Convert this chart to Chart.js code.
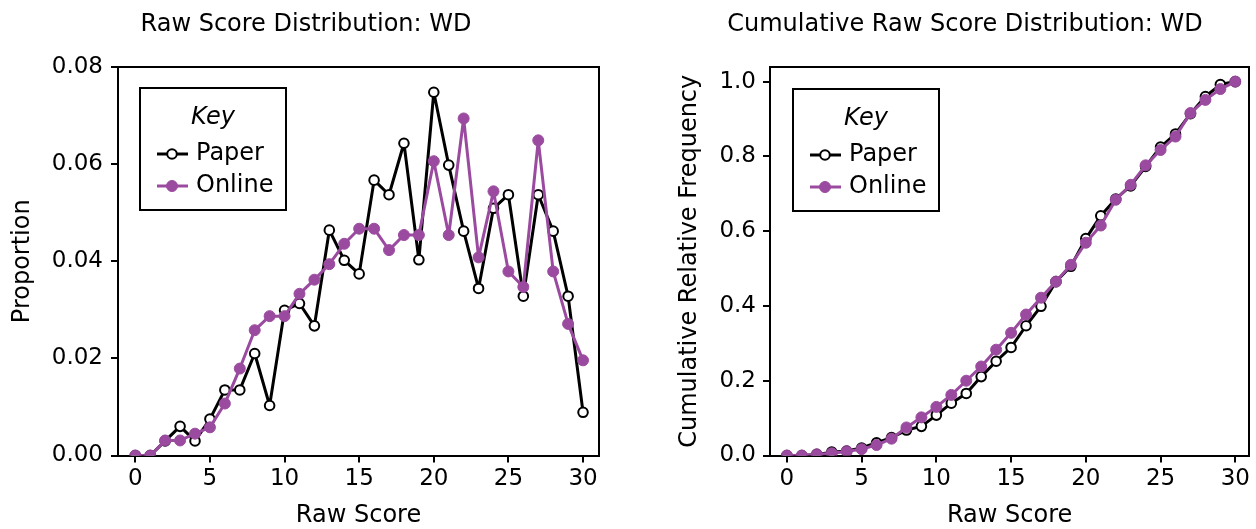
<!DOCTYPE html>
<html>
<head>
<meta charset="utf-8">
<script src="https://cdn.jsdelivr.net/npm/chart.js@4/dist/chart.umd.min.js"></script>
<style>
  html, body { margin: 0; padding: 0; background: #fff; width: 1256px; height: 529px; overflow: hidden; }
  canvas { position: absolute; top: 0; }
  #dist { left: 0; }
  #cum { left: 674px; }
</style>
</head>
<body>
<canvas id="dist" width="612" height="529"></canvas>
<canvas id="cum" width="582" height="529"></canvas>
<script>
// Raw scores 0..30
const scores = [0, 1, 2, 3, 4, 5, 6, 7, 8, 9, 10, 11, 12, 13, 14, 15, 16, 17, 18, 19, 20, 21, 22, 23, 24, 25, 26, 27, 28, 29, 30];

// Proportion of candidates at each raw score
const paperProportion = [0, 0, 0.0030, 0.0060, 0.0030, 0.0075, 0.0135, 0.0135, 0.0210, 0.0103, 0.0299, 0.0313, 0.0267, 0.0464, 0.0402, 0.0374, 0.0567, 0.0537, 0.0643, 0.0403, 0.0748, 0.0598, 0.0462, 0.0344, 0.0509, 0.0537, 0.0328, 0.0537, 0.0462, 0.0328, 0.0089];
const onlineProportion = [0, 0, 0.0031, 0.0031, 0.0045, 0.0058, 0.0107, 0.0179, 0.0258, 0.0287, 0.0287, 0.0333, 0.0362, 0.0394, 0.0436, 0.0467, 0.0467, 0.0423, 0.0454, 0.0454, 0.0606, 0.0454, 0.0694, 0.0408, 0.0544, 0.0379, 0.0347, 0.0649, 0.0379, 0.0271, 0.0196];

// Cumulative relative frequency at each raw score
const paperCumulative = [0, 0, 0.003, 0.009, 0.012, 0.020, 0.034, 0.048, 0.068, 0.078, 0.108, 0.140, 0.166, 0.211, 0.252, 0.289, 0.347, 0.399, 0.465, 0.506, 0.580, 0.641, 0.686, 0.721, 0.773, 0.825, 0.860, 0.914, 0.960, 0.992, 1.000];
const onlineCumulative = [0, 0, 0.003, 0.006, 0.011, 0.017, 0.028, 0.045, 0.075, 0.102, 0.130, 0.162, 0.200, 0.238, 0.283, 0.328, 0.377, 0.422, 0.465, 0.510, 0.569, 0.615, 0.684, 0.724, 0.776, 0.817, 0.853, 0.916, 0.951, 0.980, 1.000];

// Tick labels
const scoreTicks = [0, 5, 10, 15, 20, 25, 30];
const proportionTicks = [0, 0.02, 0.04, 0.06, 0.08];
const cumulativeTicks = [0, 0.2, 0.4, 0.6, 0.8, 1.0];

const seriesNames = ['Paper', 'Online'];
const keyTitle = 'Key';

const FONT = "'DejaVu Sans', 'Liberation Sans', sans-serif";
const PURPLE = '#9b4b9f';

Chart.defaults.font.family = FONT;
Chart.defaults.color = '#000';

// Boxed key with a line-and-marker sample for each series
const keyBox = {
  id: 'keyBox',
  afterDraw(chart, args, opts) {
    const { ctx, chartArea } = chart;
    const x0 = chartArea.left + opts.dx;
    const y0 = chartArea.top + opts.dy;
    const w = 146, h = 122;
    ctx.save();
    ctx.fillStyle = '#fff';
    ctx.fillRect(x0, y0, w, h);
    ctx.lineWidth = 2;
    ctx.strokeStyle = '#000';
    ctx.strokeRect(x0, y0, w, h);
    ctx.fillStyle = '#000';
    ctx.textBaseline = 'middle';
    ctx.textAlign = 'center';
    ctx.font = 'italic 24px ' + FONT;
    ctx.fillText(keyTitle, x0 + w / 2, y0 + 30);
    ctx.textAlign = 'left';
    ctx.font = '24px ' + FONT;
    seriesNames.forEach((name, i) => {
      const ds = chart.data.datasets.find(d => d.label === name);
      const y = y0 + 66 + i * 32;
      ctx.beginPath();
      ctx.moveTo(x0 + 17, y);
      ctx.lineTo(x0 + 48, y);
      ctx.lineWidth = ds.borderWidth;
      ctx.strokeStyle = ds.borderColor;
      ctx.stroke();
      ctx.beginPath();
      ctx.arc(x0 + 32, y, ds.pointRadius, 0, Math.PI * 2);
      ctx.fillStyle = ds.pointBackgroundColor;
      ctx.fill();
      ctx.lineWidth = ds.pointBorderWidth;
      ctx.strokeStyle = ds.pointBorderColor;
      ctx.stroke();
      ctx.fillStyle = '#000';
      ctx.fillText(name, x0 + 56, y);
    });
    ctx.restore();
  }
};

function points(values) {
  return scores.map((s, i) => ({ x: s, y: values[i] }));
}

function tickAxis(extra) {
  return Object.assign({
    type: 'linear',
    grid: { display: true, drawOnChartArea: false, drawTicks: true, tickLength: 7, color: '#000', lineWidth: 2 },
    border: { display: true, color: '#000', width: 2 },
  }, extra);
}

function frameAxis(position, size) {
  return {
    type: 'linear',
    position: position,
    display: true,
    grid: { display: false },
    ticks: { display: false },
    border: { display: true, color: '#000', width: 2 },
    afterFit: s => { if (position === 'top') s.height = size; else s.width = size; }
  };
}

function makeChart(id, o) {
  return new Chart(document.getElementById(id), {
    type: 'line',
    data: {
      datasets: [
        {
          label: 'Online',
          data: points(o.online),
          xAxisID: 'x', yAxisID: 'y',
          order: 0,
          borderColor: PURPLE,
          borderWidth: 3,
          borderJoinStyle: 'round',
          pointRadius: 5.5,
          pointBackgroundColor: PURPLE,
          pointBorderColor: PURPLE,
          pointBorderWidth: 1,
          tension: 0
        },
        {
          label: 'Paper',
          data: points(o.paper),
          xAxisID: 'x', yAxisID: 'y',
          order: 1,
          borderColor: '#000',
          borderWidth: 3,
          borderJoinStyle: 'round',
          pointRadius: 4.8,
          pointBackgroundColor: '#fff',
          pointBorderColor: '#000',
          pointBorderWidth: 2,
          tension: 0
        }
      ]
    },
    options: {
      responsive: false,
      animation: false,
      devicePixelRatio: 1,
      layout: { padding: 0 },
      plugins: {
        legend: { display: false },
        tooltip: { enabled: false },
        title: {
          display: true,
          text: o.title,
          color: '#000',
          font: { size: 24, weight: 'normal', lineHeight: 1.2 },
          padding: { top: 10, bottom: 28.2 }
        },
        keyBox: { dx: o.keyDx, dy: o.keyDy }
      },
      scales: {
        x: tickAxis({
          position: 'bottom',
          min: o.xMin, max: o.xMax,
          afterBuildTicks: s => { s.ticks = scoreTicks.map(v => ({ value: v })); },
          afterFit: s => { s.height = 73.5; },
          ticks: { font: { size: 23 }, color: '#000', padding: 3, maxRotation: 0, autoSkip: false, callback: v => String(v) },
          title: { display: true, text: 'Raw Score', color: '#000', font: { size: 24, lineHeight: 1 }, padding: { top: 0, bottom: 1 } }
        }),
        y: tickAxis({
          position: 'left',
          min: o.yMin, max: o.yMax,
          afterBuildTicks: s => { s.ticks = o.yTicks.map(v => ({ value: v })); },
          afterFit: s => { s.width = o.yWidth; },
          ticks: { font: { size: 23 }, color: '#000', padding: o.yTickPad, autoSkip: false, callback: v => v.toFixed(o.yDecimals) },
          title: { display: true, text: o.yLabel, color: '#000', font: { size: 24, lineHeight: 1 }, padding: { top: o.yTitlePad, bottom: 0 } }
        }),
        x2: frameAxis('top', 0),
        y2: frameAxis('right', o.rightWidth)
      }
    },
    plugins: [keyBox]
  });
}

makeChart('dist', {
  title: 'Raw Score Distribution: WD',
  yLabel: 'Proportion',
  paper: paperProportion,
  online: onlineProportion,
  xMin: -1.16, xMax: 31.07,
  yMin: 0, yMax: 0.08,
  yTicks: proportionTicks,
  yDecimals: 2,
  yWidth: 118,
  yTickPad: 8,
  yTitlePad: 11,
  rightWidth: 13,
  keyDx: 22, keyDy: 21
});

makeChart('cum', {
  title: 'Cumulative Raw Score Distribution: WD',
  yLabel: 'Cumulative Relative Frequency',
  paper: paperCumulative,
  online: onlineCumulative,
  xMin: -1.13, xMax: 30.93,
  yMin: 0, yMax: 1.039,
  yTicks: cumulativeTicks,
  yDecimals: 1,
  yWidth: 96,
  yTickPad: 7,
  yTitlePad: 4,
  rightWidth: 5,
  keyDx: 23, keyDy: 22
});
</script>
</body>
</html>
